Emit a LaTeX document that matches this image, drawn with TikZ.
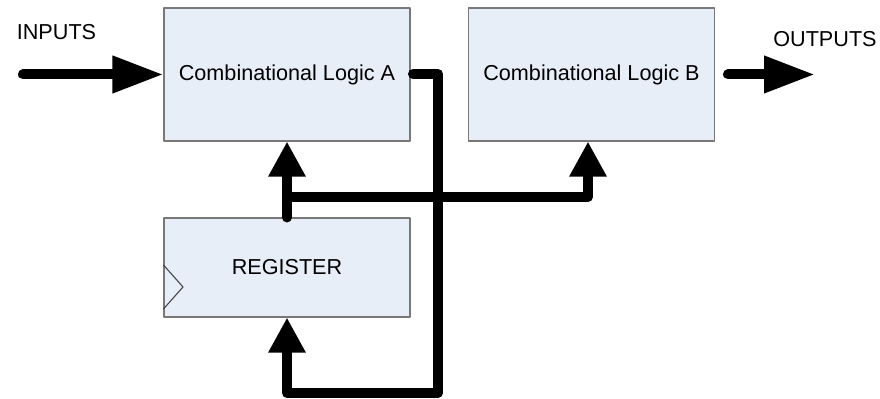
\documentclass[tikz,border=0pt]{standalone}
\usepackage{fontspec}
\setmainfont{Liberation Sans}
\usetikzlibrary{arrows.meta}
\definecolor{boxfill}{RGB}{232,238,247}
\definecolor{boxline}{RGB}{120,120,120}
\begin{document}
\begin{tikzpicture}[line join=round,line cap=round,
    font=\fontsize{12.3}{14}\selectfont,
    blk/.style={draw=boxline,line width=0.6pt,fill=boxfill,minimum width=4.92cm,inner sep=0pt},
    bus/.style={line width=0.2cm},
    hbus/.style={bus,-{Triangle[length=1.02cm,width=0.7cm]}},
    vbus/.style={bus,-{Triangle[length=0.7cm,width=0.7cm]}}]
\useasboundingbox(0,0) rectangle (17.6,7.98);

    \node[blk,minimum height=2.66cm] (A) at (5.74,6.49) {Combinational Logic A};
    \node[blk,minimum height=2.66cm] (B) at (11.83,6.49) {Combinational Logic B};
    \node[blk,minimum height=1.98cm] (reg) at (5.74,2.63) {REGISTER};
\draw[black!75,line width=0.6pt,line cap=butt](reg.west|-0,2.68)--(3.66,2.24)--(reg.west|-0,1.8);

    \coordinate (in) at (0.46,6.49);
    \node (inlab) at (1.13,7.34) {INPUTS};
    \node (outlab) at (16.5,7.19) {OUTPUTS};
    \coordinate (out) at (16.3,6.49);
    \coordinate (fa) at (8.26,6.5);
    \coordinate (fb) at (8.76,0.12);
    \coordinate (split) at (5.74,4.04);

\draw[hbus](in)--(A.west);
\draw[hbus]([xshift=0.26cm]B.east)--(out);
\draw[vbus](reg.north)--(A.south);
\draw[vbus](split)-|([xshift=-0.07cm]B.south);
\draw[vbus](fa)-|(fb)-|(reg.south);
\end{tikzpicture}
\end{document}
